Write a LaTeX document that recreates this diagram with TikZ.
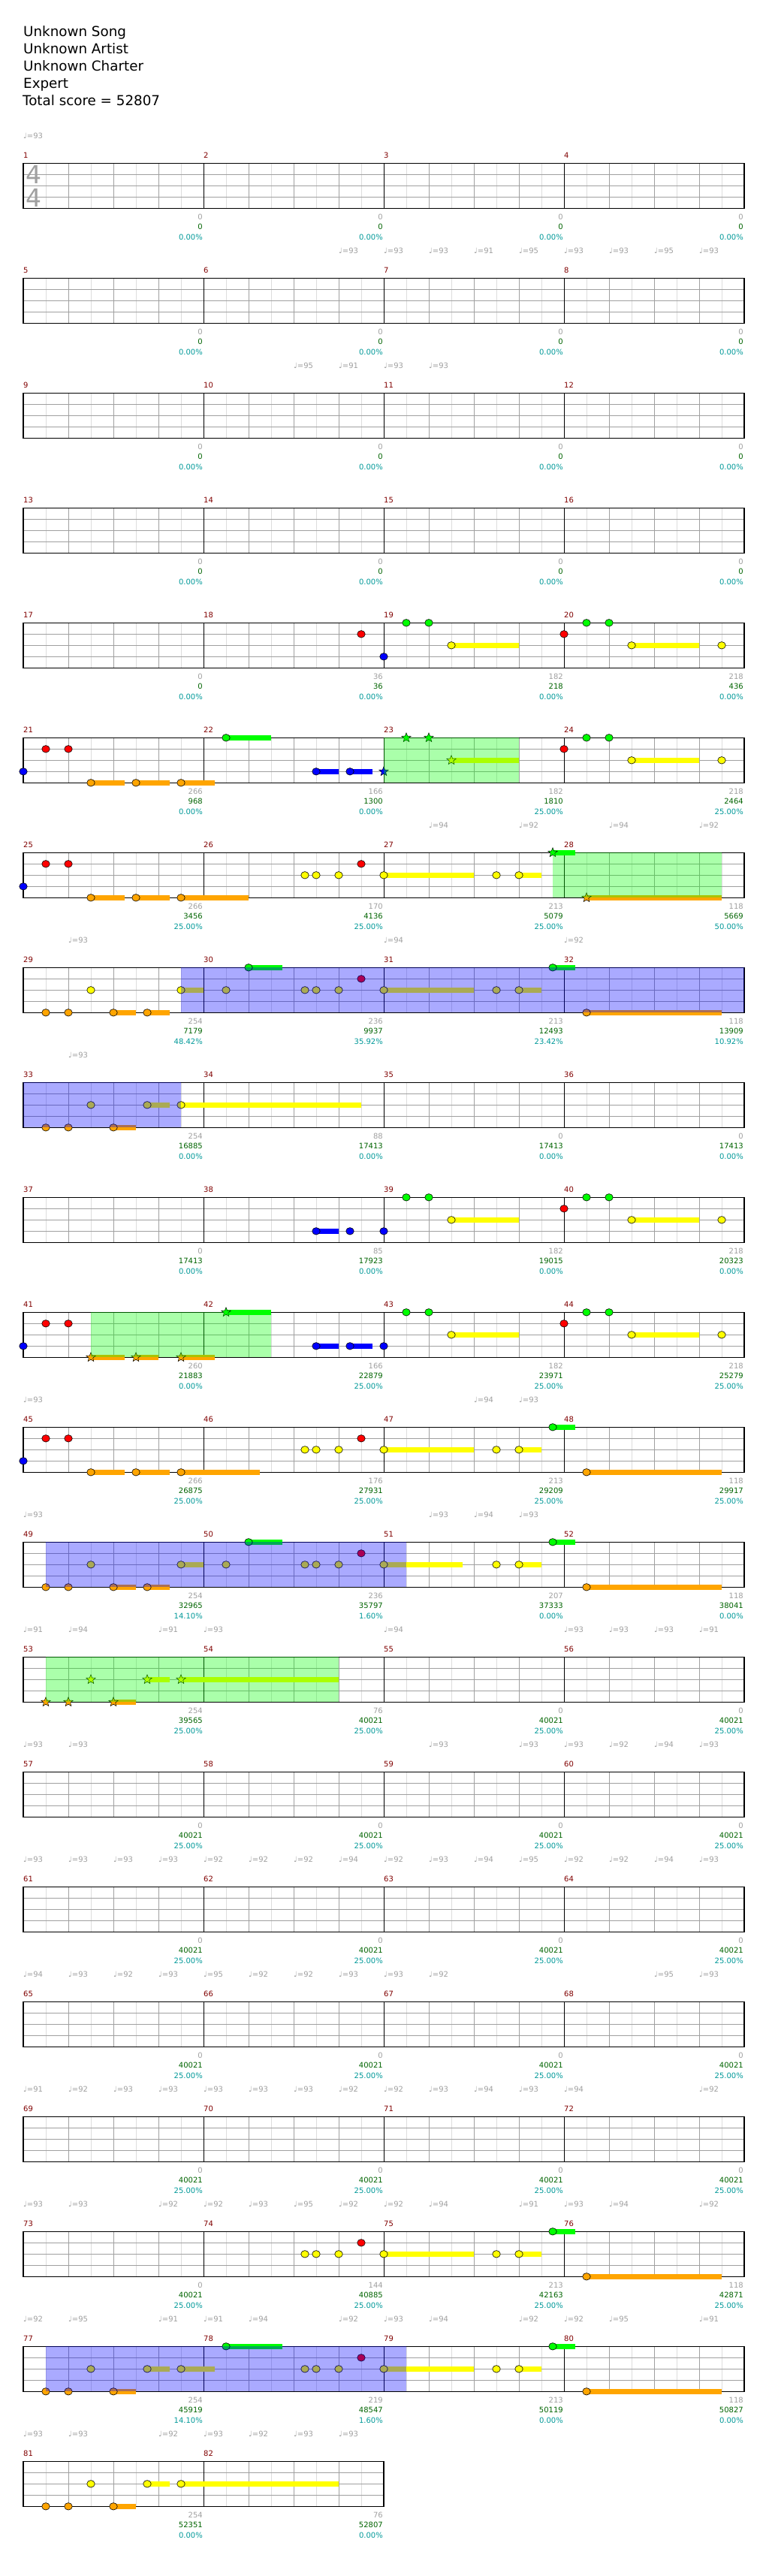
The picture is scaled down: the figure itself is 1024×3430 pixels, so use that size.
\documentclass[tikz,border=0pt]{standalone}
\usepackage{fontspec}
\setmainfont{DejaVu Sans}
\usetikzlibrary{shapes.geometric}
\definecolor{mnum}{HTML}{800000}
\definecolor{gtxt}{HTML}{A0A0A0}
\definecolor{stxt}{HTML}{006400}
\definecolor{ptxt}{HTML}{009999}
\definecolor{hb}{HTML}{DDDDDD}
\definecolor{bt}{HTML}{A0A0A0}
\definecolor{ln0}{HTML}{00FF00}
\definecolor{ln1}{HTML}{FF0000}
\definecolor{ln2}{HTML}{FFFF00}
\definecolor{ln3}{HTML}{0000FF}
\definecolor{ln4}{HTML}{FFA500}
\definecolor{spG}{HTML}{00FF00}
\definecolor{spB}{HTML}{0000FF}
\tikzset{
  notehead/.style={ellipse, draw=black, line width=0.6pt, minimum width=10.5pt, minimum height=9.5pt, inner sep=0pt},
  starnote/.style={star, star points=5, star point ratio=2.3, draw=black, line width=0.5pt, minimum size=13pt, inner sep=0pt},
  lab/.style={font=\fontsize{10}{12}\selectfont, inner sep=0pt},
  mlab/.style={lab, text=mnum},
  glab/.style={lab, text=gtxt},
  slab/.style={lab, text=stxt},
  plab/.style={lab, text=ptxt},
  tlab/.style={lab, text=gtxt},
  head/.style={font=\fontsize{18.3}{22}\selectfont, inner sep=0pt, anchor=base west},
  tsig/.style={font=\fontsize{33}{33}\selectfont, text=gtxt, inner sep=0pt}
}
\newcounter{nc}
\newcounter{tc}
\newcommand\Nt[3]{\stepcounter{nc}\node[notehead, fill=ln#3] (n\thenc) at ({31+60*#2},{217.3+153*#1+15*#3}) {};}
\newcommand\St[3]{\stepcounter{nc}\node[starnote, fill=ln#3] (n\thenc) at ({31+60*#2},{217.3+153*#1+15*#3}) {};}
\newcommand\Su[4]{\fill[ln#4] ({31+60*#2},{217.3+153*#1+15*#4-3.5}) rectangle ({31+60*#3},{217.3+153*#1+15*#4+3.5});}
\newcommand\Rg[4]{\fill[#4, fill opacity=0.333] ({31+60*#2},{217.3+153*#1}) rectangle ({31+60*#3},{217.3+153*#1+60});}
\newcommand\Staff[3]{%
  \pgfmathsetmacro\sy{217.3+153*#1}
  \pgfmathsetmacro\ex{31+240*#2}
  \pgfmathtruncatemacro\nb{4*#2-1}
  \foreach \k in {0,...,\nb} \draw[hb, line width=1pt] ({61+60*\k},\sy) -- ++(0,60);
  \foreach \k in {1,...,\nb} \draw[bt, line width=1pt] ({31+60*\k},\sy) -- ++(0,60);
  \foreach \l in {1,2,3} \draw[bt, line width=1pt] (31,\sy+15*\l) -- (\ex,\sy+15*\l);
  \pgfmathtruncatemacro\nm{#2-1}
  \foreach \m in {1,...,\nm} \draw[black, line width=0.8pt] ({31+240*\m},\sy) -- ++(0,60);
  \draw[black, line width=1.2pt] (31,\sy) rectangle (\ex,\sy+60);
  \foreach \m in {0,...,\nm} {\pgfmathtruncatemacro\mm{#3+\m}
    \node[mlab, anchor=base west] (mn\mm) at ({31+240*\m},\sy-7.3) {\mm};}
}
\newcommand\Sc[3]{%
  \pgfmathsetmacro\sy{217.3+153*#1}
  \foreach \g/\s/\p [count=\i] in {#3} {\pgfmathtruncatemacro\mm{#2+\i-1}
    \node[glab, anchor=base east] (gs\mm) at ({30+240*\i},\sy+75.4) {\g};
    \node[slab, anchor=base east] (sc\mm) at ({30+240*\i},\sy+88.4) {\s};
    \node[plab, anchor=base east] (pc\mm) at ({30+240*\i},\sy+101.7) {\p\%};}
}
\newcommand\Tp[2]{%
  \pgfmathsetmacro\sy{217.3+153*#1}
  \foreach \b/\v in {#2} {\stepcounter{tc}
    \node[tlab, anchor=base west] (t\thetc) at ({31+60*\b},\sy-33) {♩=\v};}
}
\begin{document}
\begin{tikzpicture}[x=1pt,y=-1pt]
\useasboundingbox (0,0) rectangle (1024,3430);
\fill[white] (0,0) rectangle (1024,3430);
\node[head] (song) at (31,48.3) {Unknown Song};
\node[head] (artist) at (31,71.4) {Unknown Artist};
\node[head] (charter) at (31,94.5) {Unknown Charter};
\node[head] (diff) at (31,117.6) {Expert};
\node[head] (total) at (30,140.7) {Total score = 52807};
% staves
\foreach \r in {0,...,19} {\pgfmathtruncatemacro\fm{1+4*\r}\Staff{\r}{4}{\fm}}
\Staff{20}{2}{81}
\node[tsig] (ts1) at (44.5,232) {4};
\node[tsig] (ts2) at (44.5,263) {4};
% tempos
\Tp{0}{0/93}
\Tp{1}{7/93,8/93,9/93,10/91,11/95,12/93,13/93,14/95,15/93}
\Tp{2}{6/95,7/91,8/93,9/93}
\Tp{6}{9/94,11/92,13/94,15/92}
\Tp{7}{1/93,8/94,12/92}
\Tp{8}{1/93}
\Tp{11}{0/93,10/94,11/93}
\Tp{12}{0/93,9/93,10/94,11/93}
\Tp{13}{0/91,1/94,3/91,4/93,8/94,12/93,13/93,14/93,15/91}
\Tp{14}{0/93,1/93,9/93,11/93,12/93,13/92,14/94,15/93}
\Tp{15}{0/93,1/93,2/93,3/93,4/92,5/92,6/92,7/94,8/92,9/93,10/94,11/95,12/92,13/92,14/94,15/93}
\Tp{16}{0/94,1/93,2/92,3/93,4/95,5/92,6/92,7/93,8/93,9/92,14/95,15/93}
\Tp{17}{0/91,1/92,2/93,3/93,4/93,5/93,6/93,7/92,8/92,9/93,10/94,11/93,12/94,15/92}
\Tp{18}{0/93,1/93,3/92,4/92,5/93,6/95,7/92,8/92,9/94,11/91,12/93,13/94,15/92}
\Tp{19}{0/92,1/95,3/91,4/91,5/94,7/92,8/93,9/94,11/92,12/92,13/95,15/91}
\Tp{20}{0/93,1/93,3/92,4/93,5/92,6/93,7/93}
% scores
\Sc{0}{1}{0/0/0.00,0/0/0.00,0/0/0.00,0/0/0.00}
\Sc{1}{5}{0/0/0.00,0/0/0.00,0/0/0.00,0/0/0.00}
\Sc{2}{9}{0/0/0.00,0/0/0.00,0/0/0.00,0/0/0.00}
\Sc{3}{13}{0/0/0.00,0/0/0.00,0/0/0.00,0/0/0.00}
\Sc{4}{17}{0/0/0.00,36/36/0.00,182/218/0.00,218/436/0.00}
\Sc{5}{21}{266/968/0.00,166/1300/0.00,182/1810/25.00,218/2464/25.00}
\Sc{6}{25}{266/3456/25.00,170/4136/25.00,213/5079/25.00,118/5669/50.00}
\Sc{7}{29}{254/7179/48.42,236/9937/35.92,213/12493/23.42,118/13909/10.92}
\Sc{8}{33}{254/16885/0.00,88/17413/0.00,0/17413/0.00,0/17413/0.00}
\Sc{9}{37}{0/17413/0.00,85/17923/0.00,182/19015/0.00,218/20323/0.00}
\Sc{10}{41}{260/21883/0.00,166/22879/25.00,182/23971/25.00,218/25279/25.00}
\Sc{11}{45}{266/26875/25.00,176/27931/25.00,213/29209/25.00,118/29917/25.00}
\Sc{12}{49}{254/32965/14.10,236/35797/1.60,207/37333/0.00,118/38041/0.00}
\Sc{13}{53}{254/39565/25.00,76/40021/25.00,0/40021/25.00,0/40021/25.00}
\Sc{14}{57}{0/40021/25.00,0/40021/25.00,0/40021/25.00,0/40021/25.00}
\Sc{15}{61}{0/40021/25.00,0/40021/25.00,0/40021/25.00,0/40021/25.00}
\Sc{16}{65}{0/40021/25.00,0/40021/25.00,0/40021/25.00,0/40021/25.00}
\Sc{17}{69}{0/40021/25.00,0/40021/25.00,0/40021/25.00,0/40021/25.00}
\Sc{18}{73}{0/40021/25.00,144/40885/25.00,213/42163/25.00,118/42871/25.00}
\Sc{19}{77}{254/45919/14.10,219/48547/1.60,213/50119/0.00,118/50827/0.00}
\Sc{20}{81}{254/52351/0.00,76/52807/0.00}
% row 4
\Nt{4}{7.5}{1}\Nt{4}{8}{3}\Nt{4}{8.5}{0}\Nt{4}{9}{0}
\Su{4}{9.5}{11}{2}\Nt{4}{9.5}{2}
\Nt{4}{12}{1}\Nt{4}{12.5}{0}\Nt{4}{13}{0}
\Su{4}{13.5}{15}{2}\Nt{4}{13.5}{2}\Nt{4}{15.5}{2}
% row 5
\Nt{5}{0}{3}\Nt{5}{0.5}{1}\Nt{5}{1}{1}
\Su{5}{1.5}{2.25}{4}\Nt{5}{1.5}{4}
\Su{5}{2.5}{3.25}{4}\Nt{5}{2.5}{4}
\Su{5}{3.5}{4.25}{4}\Nt{5}{3.5}{4}
\Su{5}{4.5}{5.5}{0}\Nt{5}{4.5}{0}
\Su{5}{6.5}{7}{3}\Nt{5}{6.5}{3}
\Su{5}{7.25}{7.75}{3}\Nt{5}{7.25}{3}
\St{5}{8}{3}\St{5}{8.5}{0}\St{5}{9}{0}
\Su{5}{9.5}{11}{2}\St{5}{9.5}{2}
\Nt{5}{12}{1}\Nt{5}{12.5}{0}\Nt{5}{13}{0}
\Su{5}{13.5}{15}{2}\Nt{5}{13.5}{2}\Nt{5}{15.5}{2}
\Rg{5}{8}{11}{spG}
% row 6
\Nt{6}{0}{3}\Nt{6}{0.5}{1}\Nt{6}{1}{1}
\Su{6}{1.5}{2.25}{4}\Nt{6}{1.5}{4}
\Su{6}{2.5}{3.25}{4}\Nt{6}{2.5}{4}
\Su{6}{3.5}{5}{4}\Nt{6}{3.5}{4}
\Nt{6}{6.25}{2}\Nt{6}{6.5}{2}\Nt{6}{7}{2}\Nt{6}{7.5}{1}
\Su{6}{8}{10}{2}\Nt{6}{8}{2}
\Nt{6}{10.5}{2}
\Su{6}{11}{11.5}{2}\Nt{6}{11}{2}
\Su{6}{11.75}{12.25}{0}\St{6}{11.75}{0}
\Su{6}{12.5}{15.5}{4}\St{6}{12.5}{4}
\Rg{6}{11.75}{15.5}{spG}
% row 7
\Nt{7}{0.5}{4}\Nt{7}{1}{4}\Nt{7}{1.5}{2}
\Su{7}{2}{2.5}{4}\Nt{7}{2}{4}
\Su{7}{2.75}{3.25}{4}\Nt{7}{2.75}{4}
\Su{7}{3.5}{4}{2}\Nt{7}{3.5}{2}
\Nt{7}{4.5}{2}
\Su{7}{5}{5.75}{0}\Nt{7}{5}{0}
\Nt{7}{6.25}{2}\Nt{7}{6.5}{2}\Nt{7}{7}{2}\Nt{7}{7.5}{1}
\Su{7}{8}{10}{2}\Nt{7}{8}{2}
\Nt{7}{10.5}{2}
\Su{7}{11}{11.5}{2}\Nt{7}{11}{2}
\Su{7}{11.75}{12.25}{0}\Nt{7}{11.75}{0}
\Su{7}{12.5}{15.5}{4}\Nt{7}{12.5}{4}
\Rg{7}{3.5}{16}{spB}
% row 8
\Nt{8}{0.5}{4}\Nt{8}{1}{4}\Nt{8}{1.5}{2}
\Su{8}{2}{2.5}{4}\Nt{8}{2}{4}
\Su{8}{2.75}{3.25}{2}\Nt{8}{2.75}{2}
\Su{8}{3.5}{7.5}{2}\Nt{8}{3.5}{2}
\Rg{8}{0}{3.5}{spB}
% row 9
\Su{9}{6.5}{7}{3}\Nt{9}{6.5}{3}\Nt{9}{7.25}{3}\Nt{9}{8}{3}
\Nt{9}{8.5}{0}\Nt{9}{9}{0}
\Su{9}{9.5}{11}{2}\Nt{9}{9.5}{2}
\Nt{9}{12}{1}\Nt{9}{12.5}{0}\Nt{9}{13}{0}
\Su{9}{13.5}{15}{2}\Nt{9}{13.5}{2}\Nt{9}{15.5}{2}
% row 10
\Nt{10}{0}{3}\Nt{10}{0.5}{1}\Nt{10}{1}{1}
\Su{10}{1.5}{2.25}{4}\St{10}{1.5}{4}
\Su{10}{2.5}{3}{4}\St{10}{2.5}{4}
\Su{10}{3.5}{4.25}{4}\St{10}{3.5}{4}
\Su{10}{4.5}{5.5}{0}\St{10}{4.5}{0}
\Su{10}{6.5}{7}{3}\Nt{10}{6.5}{3}
\Su{10}{7.25}{7.75}{3}\Nt{10}{7.25}{3}
\Nt{10}{8}{3}\Nt{10}{8.5}{0}\Nt{10}{9}{0}
\Su{10}{9.5}{11}{2}\Nt{10}{9.5}{2}
\Nt{10}{12}{1}\Nt{10}{12.5}{0}\Nt{10}{13}{0}
\Su{10}{13.5}{15}{2}\Nt{10}{13.5}{2}\Nt{10}{15.5}{2}
\Rg{10}{1.5}{5.5}{spG}
% row 11
\Nt{11}{0}{3}\Nt{11}{0.5}{1}\Nt{11}{1}{1}
\Su{11}{1.5}{2.25}{4}\Nt{11}{1.5}{4}
\Su{11}{2.5}{3.25}{4}\Nt{11}{2.5}{4}
\Su{11}{3.5}{5.25}{4}\Nt{11}{3.5}{4}
\Nt{11}{6.25}{2}\Nt{11}{6.5}{2}\Nt{11}{7}{2}\Nt{11}{7.5}{1}
\Su{11}{8}{10}{2}\Nt{11}{8}{2}
\Nt{11}{10.5}{2}
\Su{11}{11}{11.5}{2}\Nt{11}{11}{2}
\Su{11}{11.75}{12.25}{0}\Nt{11}{11.75}{0}
\Su{11}{12.5}{15.5}{4}\Nt{11}{12.5}{4}
% row 12
\Nt{12}{0.5}{4}\Nt{12}{1}{4}\Nt{12}{1.5}{2}
\Su{12}{2}{2.5}{4}\Nt{12}{2}{4}
\Su{12}{2.75}{3.25}{4}\Nt{12}{2.75}{4}
\Su{12}{3.5}{4}{2}\Nt{12}{3.5}{2}
\Nt{12}{4.5}{2}
\Su{12}{5}{5.75}{0}\Nt{12}{5}{0}
\Nt{12}{6.25}{2}\Nt{12}{6.5}{2}\Nt{12}{7}{2}\Nt{12}{7.5}{1}
\Su{12}{8}{9.75}{2}\Nt{12}{8}{2}
\Nt{12}{10.5}{2}
\Su{12}{11}{11.5}{2}\Nt{12}{11}{2}
\Su{12}{11.75}{12.25}{0}\Nt{12}{11.75}{0}
\Su{12}{12.5}{15.5}{4}\Nt{12}{12.5}{4}
\Rg{12}{0.5}{8.5}{spB}
% row 13
\St{13}{0.5}{4}\St{13}{1}{4}\St{13}{1.5}{2}
\Su{13}{2}{2.5}{4}\St{13}{2}{4}
\Su{13}{2.75}{3.25}{2}\St{13}{2.75}{2}
\Su{13}{3.5}{7}{2}\St{13}{3.5}{2}
\Rg{13}{0.5}{7}{spG}
% row 18
\Nt{18}{6.25}{2}\Nt{18}{6.5}{2}\Nt{18}{7}{2}\Nt{18}{7.5}{1}
\Su{18}{8}{10}{2}\Nt{18}{8}{2}
\Nt{18}{10.5}{2}
\Su{18}{11}{11.5}{2}\Nt{18}{11}{2}
\Su{18}{11.75}{12.25}{0}\Nt{18}{11.75}{0}
\Su{18}{12.5}{15.5}{4}\Nt{18}{12.5}{4}
% row 19
\Nt{19}{0.5}{4}\Nt{19}{1}{4}\Nt{19}{1.5}{2}
\Su{19}{2}{2.5}{4}\Nt{19}{2}{4}
\Su{19}{2.75}{3.25}{2}\Nt{19}{2.75}{2}
\Su{19}{3.5}{4.25}{2}\Nt{19}{3.5}{2}
\Su{19}{4.5}{5.75}{0}\Nt{19}{4.5}{0}
\Nt{19}{6.25}{2}\Nt{19}{6.5}{2}\Nt{19}{7}{2}\Nt{19}{7.5}{1}
\Su{19}{8}{10}{2}\Nt{19}{8}{2}
\Nt{19}{10.5}{2}
\Su{19}{11}{11.5}{2}\Nt{19}{11}{2}
\Su{19}{11.75}{12.25}{0}\Nt{19}{11.75}{0}
\Su{19}{12.5}{15.5}{4}\Nt{19}{12.5}{4}
\Rg{19}{0.5}{8.5}{spB}
% row 20
\Nt{20}{0.5}{4}\Nt{20}{1}{4}\Nt{20}{1.5}{2}
\Su{20}{2}{2.5}{4}\Nt{20}{2}{4}
\Su{20}{2.75}{3.25}{2}\Nt{20}{2.75}{2}
\Su{20}{3.5}{7}{2}\Nt{20}{3.5}{2}
\end{tikzpicture}
\end{document}
